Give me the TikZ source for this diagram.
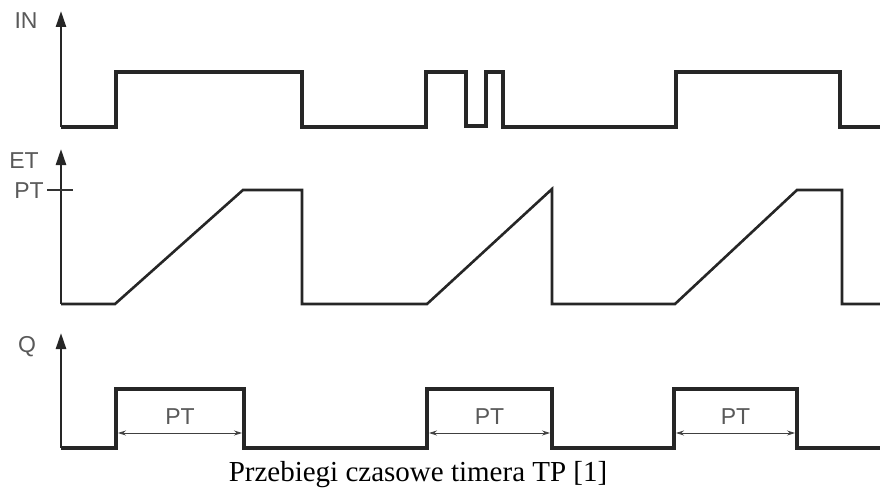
\documentclass[tikz,border=0pt]{standalone}
\usepackage{fontspec}
\setmainfont{Liberation Serif}
\newfontfamily\sygfont{Liberation Sans}
\usetikzlibrary{arrows.meta}

\begin{document}
\begin{tikzpicture}[x=1pt, y=-1pt]

	\tikzstyle{sygnal}=[line width=3.1pt, black!85, line join=miter]
	\tikzstyle{os}=[line width=2.5pt, black!85, -{Triangle[length=16pt, width=10pt]}]
	\tikzstyle{etykieta}=[text=black!65, font=\sygfont\fontsize{23}{23}\selectfont, inner sep=0pt]
	\tikzstyle{wymiar}=[line width=0.8pt, black!75, {Stealth[length=8pt, width=5pt]}-{Stealth[length=8pt, width=5pt]}]

	\useasboundingbox (0,0) rectangle (880,492);

	\coordinate (in_0) at (61, 127); % WEJSCIE
	\coordinate (in_t) at (61, 11); % WEJSCIE
	\coordinate (et_0) at (61, 304); % CZAS BIEZACY
	\coordinate (et_t) at (61, 149); % CZAS BIEZACY
	\coordinate (q_0) at (61, 448); % WYJSCIE
	\coordinate (q_t) at (61, 333); % WYJSCIE

	\coordinate (pt_l) at (47, 190);
	\coordinate (pt_r) at (73, 190);

	\coordinate (q_1_a) at (118, 433);
	\coordinate (q_1_b) at (242, 433);
	\coordinate (q_2_a) at (429, 433);
	\coordinate (q_2_b) at (550, 433);
	\coordinate (q_3_a) at (676, 433);
	\coordinate (q_3_b) at (795, 433);

	\node[etykieta] (l_in) at (26, 21) {IN};
	\node[etykieta] (l_et) at (24, 161) {ET};
	\node[etykieta] (l_pt) at (29, 191) {PT};
	\node[etykieta] (l_q) at (27, 347) {Q};

	\draw[os] (in_0) -- (in_t);
	\draw[os] (et_0) -- (et_t);
	\draw[os] (q_0) -- (q_t);
	\draw[line width=1.4pt, black!80] (pt_l) -- (pt_r);

	% IN
	\draw[sygnal] (in_0) -- (116,127) -- (116,72) -- (302,72) -- (302,127) -- (426,127) -- (426,72) -- (466,72) -- (466,126) -- (486,126) -- (486,72) -- (503,72) -- (503,127) -- (676,127) -- (676,72) -- (840,72) -- (840,127) -- (880,127);

	% ET
	\draw[sygnal, line width=2.6pt] (et_0) -- (115,304) -- (243,190) -- (302,190) -- (302,304) -- (427,304) -- (552,189) -- (552,304) -- (675,304) -- (797,190) -- (842,190) -- (842,304) -- (880,304);

	% Q
	\draw[sygnal] (q_0) -- (116,448) -- (116,389) -- (244,389) -- (244,448) -- (427,448) -- (427,389) -- (552,389) -- (552,448) -- (674,448) -- (674,389) -- (797,389) -- (797,448) -- (880,448);

	\draw[wymiar] (q_1_a) -- node[etykieta, above=8pt] (pt_1) {PT} (q_1_b);
	\draw[wymiar] (q_2_a) -- node[etykieta, above=8pt] (pt_2) {PT} (q_2_b);
	\draw[wymiar] (q_3_a) -- node[etykieta, above=8pt] (pt_3) {PT} (q_3_b);

	\node[anchor=base, font=\fontsize{29}{31}\selectfont] (opis) at (418, 481) {Przebiegi czasowe timera TP [1]};

\end{tikzpicture}
\end{document}
